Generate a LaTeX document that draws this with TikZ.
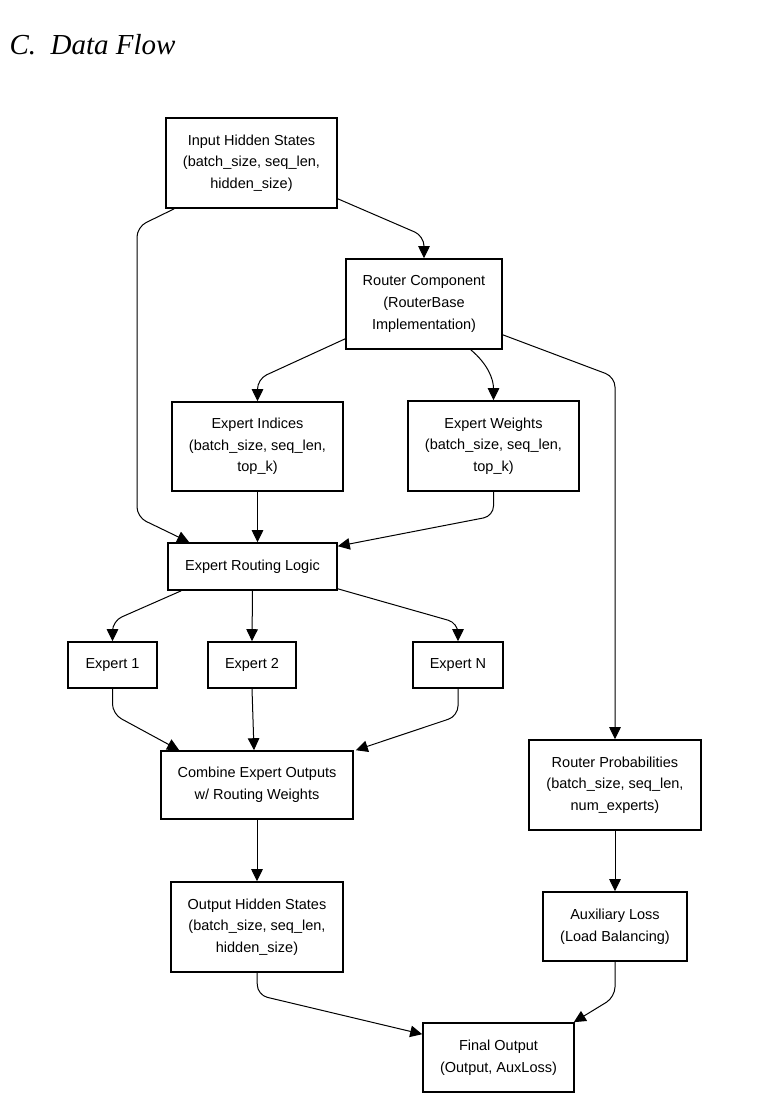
\documentclass[tikz,border=0pt]{standalone}
\usepackage{fontspec}
\setmainfont{Liberation Sans}
\newfontfamily\titlefont{Liberation Serif}
\usetikzlibrary{arrows.meta,shadows}
\begin{document}
\begin{tikzpicture}[x=1pt,y=-1pt,
  box/.style={draw, line width=1.6pt, fill=white, align=center, inner sep=0pt,
    font=\fontsize{14.5}{21.7}\selectfont,
    drop shadow={opacity=0.18, shadow xshift=1.2pt, shadow yshift=-1.2pt}},
  arr/.style={line width=1pt, rounded corners=10pt, -{Triangle[width=11.5pt,length=12pt]}}]
\useasboundingbox (0,0) rectangle (757,1117);
\node[anchor=base west, font=\titlefont\itshape\fontsize{29}{34}\selectfont] (title) at (6,54) {C.\ \ Data Flow};

\node[box, minimum width=171pt, minimum height=90pt] (in) at (251.5,163) {Input Hidden States\\(batch\_size, seq\_len,\\hidden\_size)};
\node[box, minimum width=156pt, minimum height=90pt] (router) at (424,304) {Router Component\\(RouterBase\\Implementation)};
\node[box, minimum width=171pt, minimum height=89pt] (idx) at (257.5,446.5) {Expert Indices\\(batch\_size, seq\_len,\\top\_k)};
\node[box, minimum width=171pt, minimum height=90pt] (wts) at (493.5,446) {Expert Weights\\(batch\_size, seq\_len,\\top\_k)};
\node[box, minimum width=169pt, minimum height=47pt] (route) at (252.5,566.5) {Expert Routing Logic};
\node[box, minimum width=89pt, minimum height=46pt] (e1) at (112.5,665) {Expert 1};
\node[box, minimum width=88pt, minimum height=46pt] (e2) at (252,665) {Expert 2};
\node[box, minimum width=90pt, minimum height=46pt] (eN) at (458,665) {Expert N};
\node[box, minimum width=192pt, minimum height=68pt] (comb) at (257,785) {Combine Expert Outputs\\w/ Routing Weights};
\node[box, minimum width=172pt, minimum height=90pt] (ohs) at (257,927) {Output Hidden States\\(batch\_size, seq\_len,\\hidden\_size)};
\node[box, minimum width=172pt, minimum height=90pt] (rp) at (615,785) {Router Probabilities\\(batch\_size, seq\_len,\\num\_experts)};
\node[box, minimum width=144pt, minimum height=69pt] (aux) at (615,926.5) {Auxiliary Loss\\(Load Balancing)};
\node[box, minimum width=151pt, minimum height=69pt] (fin) at (498.5,1057.5) {Final Output\\(Output, AuxLoss)};

\coordinate (c1) at (137,227);
\coordinate (c2) at (137,517);
\coordinate (c3) at (424,236);
\coordinate (c4) at (257.5,379);
\coordinate (c5) at (615,377);
\coordinate (c6) at (493.5,516);
\coordinate (c7) at (112.5,621);
\coordinate (c8) at (458,623);
\coordinate (c9) at (112.5,714);
\coordinate (c10) at (458,716);
\coordinate (c11) at (257.5,995);
\coordinate (c12) at (615,997);

\draw[arr] ([xshift=9pt]in.south west) -- (c1) -- (c2) -- ([xshift=22pt]route.north west);
\draw[arr] ([yshift=10pt]in.south east) -- (c3) -- (router.north);
\draw[arr] ([yshift=11pt]router.south west) -- (c4) -- (idx.north);
\draw[arr] ([xshift=-32pt]router.south east) to[out=-40,in=90] (wts.north);
\draw[arr] ([yshift=15pt]router.south east) -- (c5) -- (rp.north);
\draw[arr] (idx.south) -- (idx.south |- route.north);
\draw[arr] (wts.south) -- (c6) -- ([yshift=-4pt]route.north east);
\draw[arr] ([xshift=14pt]route.south west) -- (c7) -- (e1.north);
\draw[arr] (route.south) -- (e2.north);
\draw[arr] ([yshift=2pt]route.south east) -- (c8) -- (eN.north);
\draw[arr] (e1.south) -- (c9) -- ([xshift=19pt]comb.north west);
\draw[arr] (e2.south) -- ([xshift=-3pt]comb.north);
\draw[arr] (eN.south) -- (c10) -- ([xshift=2pt]comb.north east);
\draw[arr] (comb.south) -- (ohs.north);
\draw[arr] (ohs.south) -- (c11) -- ([yshift=-12pt]fin.north west);
\draw[arr] (rp.south) -- (aux.north);
\draw[arr] (aux.south) -- (c12) -- ([xshift=-1pt]fin.north east);
\end{tikzpicture}
\end{document}
